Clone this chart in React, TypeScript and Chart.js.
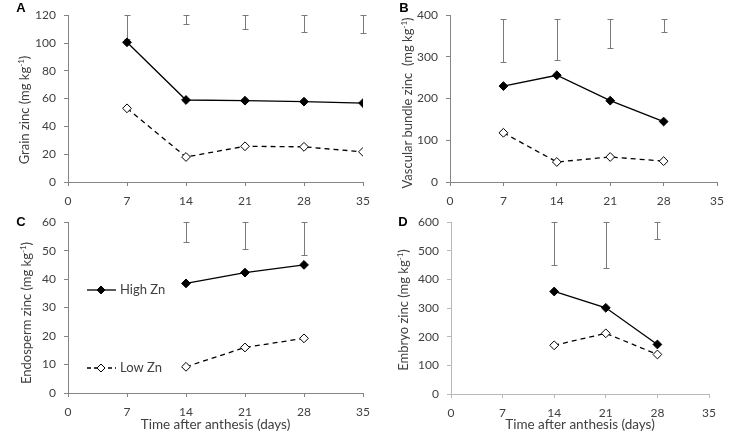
import React, { useEffect, useRef } from "react";
import { Chart, registerables } from "chart.js";
Chart.register(...registerables);

const FONT = "Lato";
const xTicks = [0, 7, 14, 21, 28, 35];
const seriesNames = ["High Zn", "Low Zn"];
const xTitle = "Time after anthesis (days)";

// Panel A – Grain zinc
const daysA = [7, 14, 21, 28, 35];
const highA = [100.5, 59, 58.5, 57.8, 56.8];
const lowA = [53, 18, 25.7, 25.3, 21.7];
const errLowA = [103, 114, 110, 108, 107];
const errHighA = [120, 120, 120, 120, 120];

// Panel B – Vascular bundle zinc
const daysB = [7, 14, 21, 28];
const highB = [230, 256, 195, 145];
const lowB = [118, 48, 60, 50];
const errLowB = [288, 293, 322, 360];
const errHighB = [390, 390, 390, 390];

// Panel C – Endosperm zinc
const daysC = [14, 21, 28];
const highC = [38.5, 42.3, 45];
const lowC = [9.2, 16, 19.2];
const errLowC = [53, 50.7, 48.6];
const errHighC = [60, 60, 60];

// Panel D – Embryo zinc
const daysD = [14, 21, 28];
const highD = [358, 301, 173];
const lowD = [170, 212, 138];
const errLowD = [449, 440, 540];
const errHighD = [600, 600, 600];

type PanelCfg = {
  letter: string;
  yTitle: string;
  days: number[];
  high: number[];
  low: number[];
  errLow: number[];
  errHigh: number[];
  yMax: number;
  yStep: number;
  showXTitle: boolean;
  legend: boolean;
  left: number;
  top: number;
  width: number;
  height: number;
  padTop: number;
  padRight: number;
  yWidth: number;
  xHeight: number;
  axisColor: string;
  titlePos: [number, number];
  letterPos: [number, number];
};

const panels: PanelCfg[] = [
  {
    letter: "A", yTitle: "Grain zinc", days: daysA, high: highA, low: lowA,
    errLow: errLowA, errHigh: errHighA, yMax: 120, yStep: 20, showXTitle: false, legend: false,
    left: 0, top: 0, width: 400, height: 217, padTop: 8, padRight: 37, yWidth: 68, xHeight: 35,
    axisColor: "#858585", titlePos: [25, 110], letterPos: [21, 8],
  },
  {
    letter: "B", yTitle: "Vascular bundle zinc ", days: daysB, high: highB, low: lowB,
    errLow: errLowB, errHigh: errHighB, yMax: 400, yStep: 100, showXTitle: false, legend: false,
    left: 366, top: 0, width: 366, height: 217, padTop: 8, padRight: 14, yWidth: 84, xHeight: 35,
    axisColor: "#858585", titlePos: [42, 103], letterPos: [38, 8],
  },
  {
    letter: "C", yTitle: "Endosperm zinc", days: daysC, high: highC, low: lowC,
    errLow: errLowC, errHigh: errHighC, yMax: 60, yStep: 10, showXTitle: true, legend: true,
    left: 0, top: 207, width: 400, height: 227, padTop: 15, padRight: 37, yWidth: 68, xHeight: 41,
    axisColor: "#858585", titlePos: [27, 106], letterPos: [21, 15],
  },
  {
    letter: "D", yTitle: "Embryo zinc", days: daysD, high: highD, low: lowD,
    errLow: errLowD, errHigh: errHighD, yMax: 600, yStep: 100, showXTitle: true, legend: false,
    left: 366, top: 207, width: 366, height: 227, padTop: 15, padRight: 23, yWidth: 85, xHeight: 40,
    axisColor: "#b8b8b8", titlePos: [38, 103], letterPos: [37, 15],
  },
];

function drawDiamond(ctx: CanvasRenderingContext2D, x: number, y: number, r: number, filled: boolean) {
  ctx.beginPath();
  ctx.moveTo(x, y - r);
  ctx.lineTo(x + r, y);
  ctx.lineTo(x, y + r);
  ctx.lineTo(x - r, y);
  ctx.closePath();
  ctx.fillStyle = filled ? "#000" : "#fff";
  ctx.fill();
  ctx.lineWidth = 1;
  ctx.strokeStyle = "#000";
  ctx.stroke();
}

function makePlugin(cfg: PanelCfg) {
  return {
    id: "overlay" + cfg.letter,
    beforeDatasetsDraw(chart: any) {
      const ctx = chart.ctx as CanvasRenderingContext2D;
      const xs = chart.scales.x;
      const ys = chart.scales.y;
      ctx.save();
      ctx.strokeStyle = "#7a7a7a";
      ctx.lineWidth = 1;
      cfg.days.forEach((d, i) => {
        const px = Math.round(xs.getPixelForValue(d)) + 0.5;
        const y1 = Math.round(ys.getPixelForValue(cfg.errLow[i])) + 0.5;
        const y2 = Math.round(ys.getPixelForValue(cfg.errHigh[i])) + 0.5;
        ctx.beginPath();
        ctx.moveTo(px, y1);
        ctx.lineTo(px, y2);
        ctx.moveTo(px - 3, y1);
        ctx.lineTo(px + 3, y1);
        ctx.moveTo(px - 3, y2);
        ctx.lineTo(px + 3, y2);
        ctx.stroke();
      });
      ctx.restore();
    },
    afterDraw(chart: any) {
      const ctx = chart.ctx as CanvasRenderingContext2D;
      ctx.save();
      // panel letter
      ctx.fillStyle = "#000";
      ctx.font = `bold 13px "Liberation Sans", Arial, sans-serif`;
      ctx.textAlign = "center";
      ctx.textBaseline = "middle";
      ctx.fillText(cfg.letter, cfg.letterPos[0], cfg.letterPos[1]);
      // y title with superscript
      const main = cfg.yTitle + " (mg kg";
      const sup = "-1";
      const close = ")";
      const mainFont = `13px ${FONT}`;
      const supFont = `8px ${FONT}`;
      ctx.font = mainFont;
      const wMain = ctx.measureText(main).width;
      const wClose = ctx.measureText(close).width;
      ctx.font = supFont;
      const wSup = ctx.measureText(sup).width;
      const total = wMain + wSup + wClose;
      ctx.translate(cfg.titlePos[0], cfg.titlePos[1]);
      ctx.rotate(-Math.PI / 2);
      ctx.fillStyle = "#404040";
      ctx.textAlign = "left";
      ctx.textBaseline = "middle";
      let x = -total / 2;
      ctx.font = mainFont;
      ctx.fillText(main, x, 0);
      x += wMain;
      ctx.font = supFont;
      ctx.fillText(sup, x, -4);
      x += wSup;
      ctx.font = mainFont;
      ctx.fillText(close, x, 0);
      ctx.restore();

      if (cfg.legend) {
        ctx.save();
        const rows = [
          { y: 290 - cfg.top, filled: true, dash: [] as number[], name: seriesNames[0] },
          { y: 368 - cfg.top, filled: false, dash: [4, 3], name: seriesNames[1] },
        ];
        rows.forEach((r) => {
          ctx.strokeStyle = "#000";
          ctx.lineWidth = 1.3;
          ctx.setLineDash(r.dash);
          ctx.beginPath();
          ctx.moveTo(87, r.y);
          ctx.lineTo(116, r.y);
          ctx.stroke();
          ctx.setLineDash([]);
          drawDiamond(ctx, 101, r.y, 4, r.filled);
          ctx.fillStyle = "#404040";
          ctx.font = `13px ${FONT}`;
          ctx.textAlign = "left";
          ctx.textBaseline = "middle";
          ctx.fillText(r.name, 120, r.y);
        });
        ctx.restore();
      }
    },
  };
}

function Panel({ cfg }: { cfg: PanelCfg }) {
  const ref = useRef<HTMLCanvasElement>(null);
  useEffect(() => {
    const canvas = ref.current;
    if (!canvas) return;
    const tickFont = { family: FONT, size: 12 };
    const chart = new Chart(canvas, {
      type: "line",
      data: {
        datasets: [
          {
            label: seriesNames[0],
            data: cfg.days.map((d, i) => ({ x: d, y: cfg.high[i] })),
            borderColor: "#000",
            borderWidth: 1.3,
            pointStyle: "rectRot",
            pointRadius: 4.4,
            pointBackgroundColor: "#000",
            pointBorderColor: "#000",
            pointBorderWidth: 1,
          },
          {
            label: seriesNames[1],
            data: cfg.days.map((d, i) => ({ x: d, y: cfg.low[i] })),
            borderColor: "#000",
            borderWidth: 1.3,
            borderDash: [5, 4],
            pointStyle: "rectRot",
            pointRadius: 4.4,
            pointBackgroundColor: "#fff",
            pointBorderColor: "#000",
            pointBorderWidth: 1,
          },
        ],
      },
      options: {
        animation: false,
        responsive: false,
        devicePixelRatio: 1,
        layout: { padding: { top: cfg.padTop, right: cfg.padRight, left: 0, bottom: 0 } },
        plugins: { legend: { display: false }, tooltip: { enabled: false } },
        scales: {
          x: {
            type: "linear",
            min: 0,
            max: 35,
            afterBuildTicks: (s: any) => {
              s.ticks = xTicks.map((v) => ({ value: v }));
            },
            afterFit: (s: any) => {
              s.height = cfg.xHeight;
            },
            grid: { drawOnChartArea: false, drawTicks: true, tickLength: 4, color: cfg.axisColor },
            border: { display: true, color: cfg.axisColor, width: 1 },
            ticks: { color: "#404040", font: tickFont, padding: 8, maxRotation: 0, autoSkip: false },
            title: {
              display: cfg.showXTitle,
              text: xTitle,
              color: "#404040",
              font: { family: FONT, size: 13.5 },
              padding: { top: 0, bottom: 1 },
            },
          },
          y: {
            min: 0,
            max: cfg.yMax,
            afterFit: (s: any) => {
              s.width = cfg.yWidth;
            },
            ticks: { stepSize: cfg.yStep, color: "#404040", font: tickFont, padding: 8 },
            grid: { drawOnChartArea: false, drawTicks: true, tickLength: 4, color: cfg.axisColor },
            border: { display: true, color: cfg.axisColor, width: 1 },
          },
        },
      },
      plugins: [makePlugin(cfg)],
    } as any);
    return () => chart.destroy();
  }, [cfg]);
  return (
    <canvas
      ref={ref}
      width={cfg.width}
      height={cfg.height}
      style={{ position: "absolute", left: cfg.left, top: cfg.top, width: cfg.width, height: cfg.height }}
    />
  );
}

export default function App() {
  return (
    <div style={{ position: "absolute", left: 0, top: 0, width: 732, height: 434, background: "#fff", overflow: "hidden" }}>
      {panels.map((p) => (
        <Panel key={p.letter} cfg={p} />
      ))}
    </div>
  );
}
